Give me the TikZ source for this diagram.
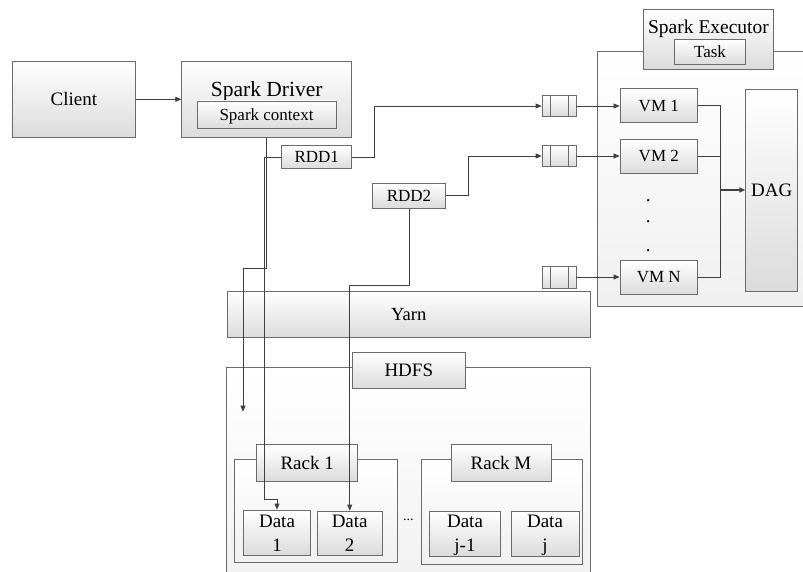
\documentclass[tikz,border=0pt]{standalone}
\usepackage{fontspec}
\setmainfont{Liberation Serif}
\usetikzlibrary{arrows.meta}
\definecolor{boxc}{gray}{0.42}
\definecolor{lnc}{gray}{0.25}
\begin{document}
\begin{tikzpicture}[x=1pt,y=-1pt,
  box/.style={draw=boxc, line width=0.7pt, rectangle, inner sep=0pt, top color=white, bottom color=black!14},
  outer/.style={draw=boxc, line width=0.7pt, rectangle, inner sep=0pt, top color=white, bottom color=black!6},
  sz/.style 2 args={minimum width=#1pt, minimum height=#2pt},
  t19/.style={font=\fontsize{19}{23}\selectfont, text height=12.6pt, text depth=0pt},
  t17/.style={font=\fontsize{17}{20}\selectfont, text height=11.3pt, text depth=0pt},
  tb19/.style={font=\fontsize{19}{23}\selectfont, anchor=base, inner sep=0pt},
  ln/.style={draw=lnc, line width=0.75pt},
  arr/.style={ln, -{Triangle[length=6pt,width=5pt]}}
]
\useasboundingbox (0,0) rectangle (803,572);
\clip (0,0) rectangle (803,572);

% ---------- top left
\node[box, sz={123.7}{76.7}, t19] (client) at (73.8,99.3) {Client};
\node[box, sz={170}{76.7}] (driver) at (266.7,99.3) {};
\node[font=\fontsize{21.5}{25}\selectfont, anchor=base, inner sep=0pt] (drivert) at (266.7,96.7) {Spark Driver};
\node[box, sz={139}{27.7}, t17] (ctx) at (266.5,114.8) {Spark context};

\node[box, sz={70}{22.6}, t17] (rdd1) at (316.7,157) {RDD1};
\node[box, sz={73.4}{25}, t17] (rdd2) at (409,195.8) {RDD2};

% ---------- executor
\node[outer, sz={232.7}{254.3}] (exec) at (713.65,178.85) {};
\node[box, sz={130}{60}] (exechead) at (708.3,39) {};
\node[font=\fontsize{19.5}{23}\selectfont, anchor=base, inner sep=0pt] (exect) at (708.5,33.3) {Spark Executor};
\node[box, sz={71.4}{25}, t17] (task) at (710,51.8) {Task};

\node[box, sz={77.7}{33.6}, t17] (vm1) at (658.8,105.5) {VM 1};
\node[box, sz={77.7}{33.6}, t17] (vm2) at (658.8,156.2) {VM 2};
\node[box, sz={77.7}{33.6}, t17] (vmn) at (658.8,277.3) {VM N};
\node[box, sz={52}{202}, t19] (dag) at (771.7,190) {DAG};
\node[tb19] (dot1) at (648.3,201.2) {.};
\node[tb19] (dot2) at (648.3,222.9) {.};
\node[tb19] (dot3) at (648.3,251.2) {.};

% queues
\foreach \n/\yy in {q1/106, q2/156, qn/277}{
  \node[box, sz={34}{21.7}] (\n) at (559,\yy) {};
  \draw[draw=boxc, line width=0.7pt] ([xshift=8.5pt]\n.north west) -- ([xshift=8.5pt]\n.south west);
  \draw[draw=boxc, line width=0.7pt] ([xshift=-8.5pt]\n.north east) -- ([xshift=-8.5pt]\n.south east);
}

% ---------- yarn / hdfs
\node[box, sz={362.3}{46.3}, font=\fontsize{18.5}{22}\selectfont, text height=12.2pt, text depth=0pt] (yarn) at (408.8,314.2) {Yarn};
\node[outer, sz={364}{232.3}] (hdfs) at (408.7,483.85) {};
\node[box, sz={112.3}{36}, t19] (hdfsl) at (408.8,370.3) {HDFS};

\node[outer, sz={163.3}{103.4}] (rack1) at (315.65,511) {};
\node[box, sz={101}{36.7}, t19] (rack1l) at (307.2,462.7) {Rack 1};
\node[outer, sz={160.6}{104.7}] (rackm) at (502,511.65) {};
\node[box, sz={100}{36.7}, t19] (rackml) at (501,462.7) {Rack M};

\node[box, sz={67.4}{45}] (d1) at (277,532.5) {};
\node[box, sz={64.7}{44}] (d2) at (349.7,533) {};
\node[box, sz={71.4}{45}] (dj1) at (465,533.5) {};
\node[box, sz={68}{45}] (dj) at (545,533.5) {};
\foreach \n/\lab in {d1/1, d2/2, dj1/j-1, dj/j}{
  \node[tb19] (\n a) at (\n.center |- 0,527.3) {Data};
  \node[tb19] (\n b) at (\n.center |- 0,551.7) {\lab};
}
\node[font=\fontsize{14}{16}\selectfont, anchor=base, inner sep=0pt] (ell) at (408.3,520) {...};

% ---------- connectors
\coordinate (hdfsin) at (243,411.7);
\coordinate (bus) at (720.7,190);

\draw[arr] (client.east) -- (client.east -| driver.west);
\draw[arr] (driver.south) -- (266.7,268) -| (hdfsin);
\draw[arr] (rdd1.west) -- (264,157) -- (264,499) -| (d1.north);
\draw[arr] (rdd1.east) -- (374,157) |- (q1.west);
\draw[arr] (rdd2.east) -- (468.3,195.8) |- (q2.west);
\draw[arr] (rdd2.south) -- (409,285.7) -| (d2.north);

\draw[arr] (q1.east) -- (q1.east -| vm1.west);
\draw[arr] (q2.east) -- (q2.east -| vm2.west);
\draw[arr] (qn.east) -- (qn.east -| vmn.west);

\draw[ln] (vm1.east) -- (vm1.east -| bus) -- (vmn.east -| bus) -- (vmn.east);
\draw[ln] (vm2.east) -- (vm2.east -| bus);
\draw[arr, line width=1.3pt] (bus) -- (dag.west);
\end{tikzpicture}
\end{document}
